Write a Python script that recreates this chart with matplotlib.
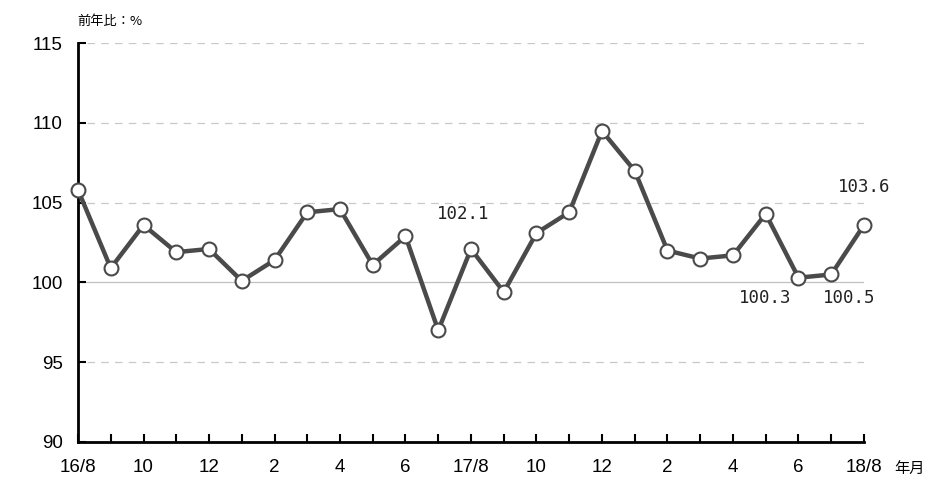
import matplotlib.pyplot as plt
import numpy as np

plt.rcParams['font.family'] = ['Liberation Sans', 'Noto Sans CJK JP', 'DejaVu Sans']

months = ["16/8", "9", "10", "11", "12", "1", "2", "3", "4", "5", "6", "7",
          "17/8", "9", "10", "11", "12", "1", "2", "3", "4", "5", "6", "7", "18/8"]
values = [105.8, 100.9, 103.6, 101.9, 102.1, 100.1, 101.4, 104.4, 104.6, 101.1, 102.9, 97.0,
          102.1, 99.4, 103.1, 104.4, 109.5, 107.0, 102.0, 101.5, 101.7, 104.3, 100.3, 100.5, 103.6]
# labelled points: index -> offset in pixels
labels = {12: (-8, 35), 24: (0, 38), 22: (-33, -20), 23: (18, -24)}

fig = plt.figure(figsize=(9.31, 4.8), dpi=100)
ax = fig.add_axes([0.0838, 0.0792, 0.8442, 0.8308])

x = np.arange(len(values))

# grid
for g in [95, 105, 110, 115]:
    ax.axhline(g, xmin=0.012, color='#c8c8c8', lw=0.9, ls=(0, (6, 5)), zorder=0)
ax.axhline(100, color='#c0c0c0', lw=0.9, zorder=0)

ax.plot(x, values, color='#4a4a4a', lw=3.2, marker='o', ms=10,
        mfc='white', mec='#4a4a4a', mew=1.5, clip_on=False, zorder=3)

for i, off in labels.items():
    ax.annotate(f"{values[i]:.1f}", (x[i], values[i]), xytext=off,
                textcoords='offset pixels', ha='center', va='center',
                fontsize=12.5, family='DejaVu Sans Mono', color='#222222')

ax.set_xlim(0, 24)
ax.set_ylim(90, 115)
ax.set_yticks([90, 95, 100, 105, 110, 115])
ax.set_xticks(x)
ax.set_xticklabels([m if i % 2 == 0 else "" for i, m in enumerate(months)])

for s in ['top', 'right']:
    ax.spines[s].set_visible(False)
ax.spines['left'].set_linewidth(2)
ax.spines['bottom'].set_linewidth(2)
ax.tick_params(axis='both', direction='in', length=6, width=1.5, labelsize=13.5)
ax.tick_params(axis='y', pad=11)
ax.tick_params(axis='x', pad=12)

fig.text(0.083, 0.955, "前年比：%", fontsize=9.5, ha='left', va='center',
         family=['Noto Sans CJK JP', 'DejaVu Sans'])
fig.text(0.960, 0.025, "年月", fontsize=11, ha='left', va='center',
         family=['Noto Sans CJK JP', 'DejaVu Sans'])

fig.savefig("out.png", dpi=100)
